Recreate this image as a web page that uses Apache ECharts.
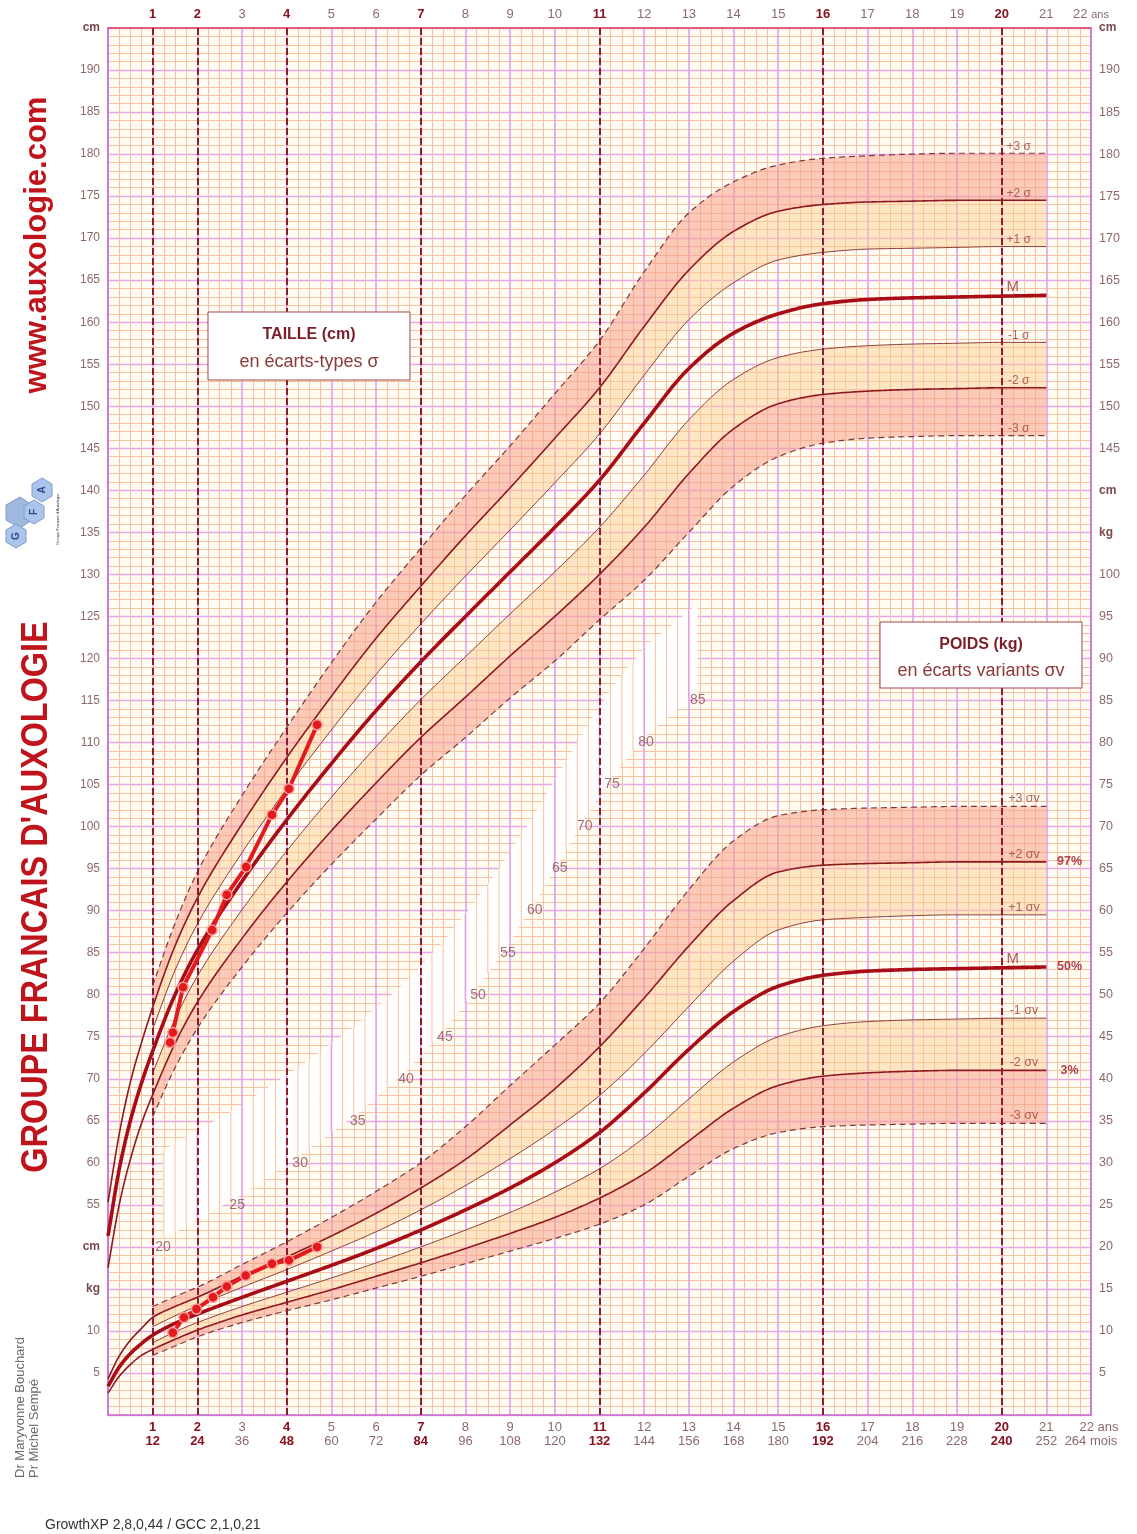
<!DOCTYPE html>
<html><head><meta charset="utf-8">
<script src="https://cdn.jsdelivr.net/npm/echarts@6/dist/echarts.min.js"></script>
<style>html,body{margin:0;padding:0;background:#fff;}#c{width:1137px;height:1534px;}</style>
</head><body><div id="c"></div>
<script>
// ---------- DATA ----------
const AGES = [0,0.25,0.5,0.75,1,1.5,2,3,4,5,6,7,8,9,10,11,12,13,14,15,16,17,18,19,20,21];
// Height (cm)
const H_P3 = [null,null,null,null,81.1,88.5,94.6,103.7,111.8,119.5,126.7,133.1,139.4,145.3,151.5,157.8,166.0,173.0,176.7,178.7,179.5,179.8,180.0,180.1,180.1,180.1];
const H_P2 = [55.3,63.4,69.6,74.3,78.5,85.8,91.5,100.3,108.2,115.5,122.4,128.6,134.6,140.3,146.2,152.2,159.5,166.2,170.8,173.2,174.0,174.3,174.4,174.5,174.5,174.5];
const H_P1 = [null,null,null,null,75.9,82.9,88.4,96.9,104.5,111.5,118.1,124.1,129.8,135.3,140.9,146.7,153.7,160.3,164.7,167.4,168.3,168.7,168.8,168.9,169.0,169.0];
const H_M  = [51.3,59.2,65.0,69.5,73.3,80.0,85.3,93.5,100.8,107.5,113.8,119.6,125.0,130.3,135.6,141.2,148.0,154.5,158.7,161.0,162.2,162.7,162.9,163.0,163.1,163.2];
const H_M1 = [null,null,null,null,70.7,77.1,82.2,90.1,97.1,103.5,109.5,115.1,120.2,125.3,130.3,135.6,141.8,148.4,153.2,155.8,156.8,157.2,157.4,157.5,157.6,157.6];
const H_M2 = [47.5,55.0,60.4,64.7,68.1,74.2,79.1,86.7,93.4,99.5,105.2,110.6,115.4,120.3,125.0,130.0,135.6,142.0,147.3,150.3,151.4,151.8,152.0,152.1,152.2,152.2];
const H_M3 = [null,null,null,null,65.5,71.3,76.0,83.3,89.7,95.5,100.9,106.1,110.6,115.3,119.7,124.6,129.3,135.0,140.5,144.0,145.6,146.2,146.4,146.5,146.5,146.5];
// Weight (kg)
const W_P3 = [null,null,null,null,12.9,14.1,15.2,17.9,20.6,23.5,26.6,30.0,34.3,39.2,44.0,49.0,55.5,62.5,68.3,71.3,72.0,72.2,72.3,72.4,72.4,72.4];
const W_P2 = [4.3,7.0,8.9,10.3,11.6,12.9,14.0,16.5,18.8,21.3,24.0,27.0,30.4,34.5,38.8,43.8,49.6,55.8,61.2,64.6,65.4,65.6,65.7,65.8,65.8,65.8];
const W_P1 = [null,null,null,null,10.5,11.8,13.0,15.2,17.3,19.5,21.8,24.4,27.3,30.5,34.0,38.0,43.0,48.6,54.0,57.7,58.9,59.2,59.4,59.5,59.5,59.5];
const W_M  = [3.4,5.7,7.3,8.5,9.5,10.9,12.0,14.0,15.9,17.8,19.8,22.0,24.4,27.0,30.0,33.6,38.3,43.5,48.0,51.0,52.3,52.8,53.0,53.1,53.2,53.3];
const W_M1 = [null,null,null,null,8.6,9.9,11.0,12.9,14.6,16.3,18.1,20.0,22.0,24.1,26.5,29.3,33.0,37.6,42.0,45.0,46.3,46.8,47.0,47.1,47.2,47.2];
const W_M2 = [2.6,4.6,6.0,7.1,7.8,9.0,10.1,11.9,13.4,14.9,16.5,18.1,19.8,21.6,23.5,25.8,28.7,32.6,36.5,39.2,40.3,40.7,40.9,41.0,41.0,41.0];
const W_M3 = [null,null,null,null,7.1,8.2,9.3,11.0,12.4,13.7,15.1,16.5,18.0,19.5,21.0,22.7,25.0,28.4,31.7,33.6,34.3,34.5,34.6,34.7,34.7,34.7];
// Patient
const PH_AGE = [1.39,1.45,1.68,2.33,2.66,3.09,3.67,4.05,4.68];
const PH_CM  = [74.3,75.5,80.9,87.7,91.9,95.2,101.4,104.5,112.1];
const PW_AGE = [1.45,1.70,1.98,2.35,2.66,3.08,3.67,4.05,4.68];
const PW_KG  = [9.8,11.6,12.6,14.0,15.3,16.6,18.0,18.4,20.0];
// Mid weight scale labels
const MID_LABELS = [20,25,30,35,40,45,50,55,60,65,70,75,80,85];
const MID_AGES   = [1.23,2.89,4.30,5.59,6.67,7.54,8.28,8.95,9.55,10.11,10.67,11.28,12.04,13.2];
// Ticks / labels
const KEY_AGES = [1,2,4,7,11,16,20];
const H_NAMES = ['+3 σ','+2 σ','+1 σ','M','-1 σ','-2 σ','-3 σ'];
const W_NAMES = ['+3 σv','+2 σv','+1 σv','M','-1 σv','-2 σv','-3 σv'];
const PCT_NAMES = ['97%','50%','3%'];

// ---------- HELPERS ----------
const FONT = '"Liberation Sans", Arial, sans-serif';
function monoSample(xs, ys, step){
  const n = xs.length, out=[];
  if(n<2) return xs.map((x,i)=>[x,ys[i]]);
  const d=[], m=new Array(n);
  for(let i=0;i<n-1;i++) d.push((ys[i+1]-ys[i])/(xs[i+1]-xs[i]));
  m[0]=d[0]; m[n-1]=d[n-2];
  for(let i=1;i<n-1;i++){
    if(d[i-1]*d[i]<=0) m[i]=0;
    else{
      const h0=xs[i]-xs[i-1], h1=xs[i+1]-xs[i];
      const w1=2*h1+h0, w2=h1+2*h0;
      m[i]=(w1+w2)/(w1/d[i-1]+w2/d[i]);
    }
  }
  for(let i=0;i<n-1;i++){
    const h=xs[i+1]-xs[i]; const k=Math.max(2,Math.ceil(h/step));
    for(let j=0;j<k;j++){
      const t=j/k,t2=t*t,t3=t2*t;
      const y=(2*t3-3*t2+1)*ys[i]+(t3-2*t2+t)*h*m[i]+(-2*t3+3*t2)*ys[i+1]+(t3-t2)*h*m[i+1];
      out.push([xs[i]+t*h,y]);
    }
  }
  out.push([xs[n-1],ys[n-1]]);
  return out;
}
function sampled(arr){
  const xs=[],ys=[];
  AGES.forEach((a,i)=>{ if(arr[i]!=null){xs.push(a);ys.push(arr[i]);} });
  return monoSample(xs,ys,0.05);
}
const STY = {
  d:{stroke:'#7a3a3a',lineWidth:1.2,lineDash:[6,4],fill:null},
  s2:{stroke:'#8e1820',lineWidth:1.6,fill:null},
  s1:{stroke:'#8a3a36',lineWidth:1,fill:null},
  m:{stroke:'#a80c16',lineWidth:3.6,fill:null}
};
const KINDS=['d','s2','s1','m','s1','s2','d'];
function curveSeries(arrs, yIdx){
  return {type:'custom', xAxisIndex:0, yAxisIndex:yIdx, silent:true, z:4, animation:false,
    data: arrs.map((a,i)=>[10,10,i]),
    renderItem:(params,api)=>{
      const arr=arrs[params.dataIndex];
      const pts=sampled(arr).map(p=>api.coord(p));
      return {type:'polyline', shape:{points:pts}, style:Object.assign({},STY[KINDS[params.dataIndex]])};
    }};
}
function bandSeries(pairs, yIdx){
  return {type:'custom', xAxisIndex:0, yAxisIndex:yIdx, silent:true, z:2, animation:false,
    data: pairs.map((p,i)=>[10,10,i]),
    renderItem:(params,api)=>{
      const [U,L,col]=pairs[params.dataIndex];
      const su=sampled(U), sl=sampled(L);
      const keysL=new Map(sl.map(p=>[p[0].toFixed(4),p[1]]));
      const top=[],bot=[];
      su.forEach(p=>{const k=p[0].toFixed(4); if(keysL.has(k)){top.push(api.coord(p)); bot.push(api.coord([p[0],keysL.get(k)]));}});
      return {type:'polygon', shape:{points:top.concat(bot.reverse())}, style:{fill:col}};
    }};
}
const OUTER='rgba(247,160,136,0.55)', INNER='rgba(252,204,140,0.45)';
const H_ARRS=[H_P3,H_P2,H_P1,H_M,H_M1,H_M2,H_M3];
const W_ARRS=[W_P3,W_P2,W_P1,W_M,W_M1,W_M2,W_M3];
const last=a=>a[a.length-1];
const GRID_MINOR='#f6c2a0', GRID_MAJOR_V='#e0a0e8', GRID_MAJOR_H='#e6a8ea';
const RIB_LO=0.9, RIB_HI=11.5;

// ribbon (white diagonal zone of the mid weight scale)
const ribbonSeries = {type:'custom', xAxisIndex:0, yAxisIndex:1, silent:true, z:1, animation:false,
  data:[[10,10]],
  renderItem:(params,api)=>{
    const lo=MID_AGES.map((a,i)=>api.coord([a,MID_LABELS[i]+RIB_LO]));
    const hi=MID_AGES.map((a,i)=>api.coord([a,MID_LABELS[i]+RIB_HI]));
    const children=[{type:'polygon', shape:{points:hi.concat(lo.slice().reverse())}, style:{fill:'rgba(255,255,255,0.96)'}}];
    for(let q=Math.ceil(MID_AGES[0]*4); q<=Math.floor(last(MID_AGES)*4); q++){
      const a=q/4;
      let i=0; while(i<MID_AGES.length-2 && MID_AGES[i+1]<a) i++;
      const t=(a-MID_AGES[i])/(MID_AGES[i+1]-MID_AGES[i]);
      const v=MID_LABELS[i]+t*(MID_LABELS[i+1]-MID_LABELS[i]);
      const p1=api.coord([a,v+RIB_LO]), p2=api.coord([a,v+RIB_HI]);
      const major=(q%4===0);
      children.push({type:'line', shape:{x1:p1[0],y1:p1[1],x2:p2[0],y2:p2[1]}, style:{stroke:major?GRID_MAJOR_V:GRID_MINOR, lineWidth:major?1.6:1}});
    }
    return {type:'group', children};
  }};

// ---------- CHART ----------
const chart = echarts.init(document.getElementById('c'), null, {renderer:'canvas'});
const axisNum = '#8c6a6a', keyCol = '#8b1020';
const option = {
  animation:false,
  backgroundColor:'#ffffff',
  grid:{left:108, top:28, width:983, height:1387, show:true, backgroundColor:'#fffcf4', borderWidth:0},
  xAxis:[
    {type:'value', position:'bottom', min:0, max:22, interval:1,
     axisLine:{show:true, onZero:false, lineStyle:{color:'#c868cc', width:1.5}},
     axisTick:{show:false},
     minorTick:{show:false, splitNumber:4},
     splitLine:{show:true, lineStyle:{color:GRID_MAJOR_V, width:1.6}},
     minorSplitLine:{show:true, lineStyle:{color:GRID_MINOR, width:1}},
     axisLabel:{margin:5, lineHeight:14, formatter:v=>{
        if(v===0) return '';
        if(v===22) return '{e|22 ans}\n{n|264 mois}';
        const k=KEY_AGES.includes(v)?'k':'n';
        return '{'+k+'|'+v+'}\n{'+k+'|'+(v*12)+'}';
      }, rich:{n:{color:axisNum,fontSize:13,fontFamily:FONT,lineHeight:14},
               e:{color:axisNum,fontSize:13,fontFamily:FONT,lineHeight:14,padding:[0,0,0,16]},
               k:{color:keyCol,fontSize:13,fontWeight:'bold',fontFamily:FONT,lineHeight:14}}}
    },
    {type:'value', position:'top', min:0, max:22, interval:1,
     axisLine:{show:true, onZero:false, lineStyle:{color:'#e5607a', width:2}},
     axisTick:{show:false}, splitLine:{show:false},
     axisLabel:{margin:7, formatter:v=>{
        if(v===0) return '';
        if(v===22) return '{n|22 }{s|ans}';
        return KEY_AGES.includes(v)?'{k|'+v+'}':'{n|'+v+'}';
      }, rich:{n:{color:axisNum,fontSize:13,fontFamily:FONT}, s:{color:axisNum,fontSize:11,fontFamily:FONT}, k:{color:keyCol,fontSize:13,fontWeight:'bold',fontFamily:FONT}}}
    }
  ],
  yAxis:[
    {type:'value', position:'left', min:30, max:195, interval:5,
     axisLine:{show:true, onZero:false, lineStyle:{color:'#c868cc', width:1.5}},
     axisTick:{show:false},
     minorTick:{show:false, splitNumber:5},
     splitLine:{show:true, lineStyle:{color:GRID_MAJOR_H, width:1.3}},
     minorSplitLine:{show:true, lineStyle:{color:GRID_MINOR, width:1}},
     axisLabel:{margin:8, formatter:v=>{
        if(v===195||v===50) return '{u|cm}';
        if(v===45) return '{u|kg}';
        if(v===40) return '10';
        if(v===35) return '5';
        if(v>=55) return String(v);
        return '';
      }, color:axisNum, fontSize:12, fontFamily:FONT, rich:{u:{color:'#7a4a4a',fontWeight:'bold',fontSize:12,fontFamily:FONT}}}
    },
    {type:'value', position:'right', min:0, max:165, interval:5,
     axisLine:{show:true, onZero:false, lineStyle:{color:'#c868cc', width:1.5}},
     axisTick:{show:false}, splitLine:{show:false},
     axisLabel:{margin:8, formatter:v=>{
        if(v===165||v===110) return '{u|cm}';
        if(v===105) return '{u|kg}';
        if(v>=115) return String(v+30);
        if(v>=5) return String(v);
        return '';
      }, color:axisNum, fontSize:12.5, fontFamily:FONT, rich:{u:{color:'#7a4a4a',fontWeight:'bold',fontSize:12,fontFamily:FONT}}}
    }
  ],
  series:[
    ribbonSeries,
    bandSeries([[H_P3,H_P2,OUTER],[H_P2,H_P1,INNER],[H_M1,H_M2,INNER],[H_M2,H_M3,OUTER]],0),
    bandSeries([[W_P3,W_P2,OUTER],[W_P2,W_P1,INNER],[W_M1,W_M2,INNER],[W_M2,W_M3,OUTER]],1),
    {type:'line', xAxisIndex:0, yAxisIndex:0, data:[[0,30]], showSymbol:false, silent:true, z:3,
     lineStyle:{width:0},
     markLine:{silent:true, symbol:['none','none'], label:{show:false},
       lineStyle:{color:'#8c1c2c', type:[7,3], width:2},
       data:KEY_AGES.map(a=>({xAxis:a}))}},
    curveSeries(H_ARRS,0),
    curveSeries(W_ARRS,1),
    {type:'scatter', xAxisIndex:0, yAxisIndex:0, symbolSize:0, silent:true, z:6,
     data:H_NAMES.map((n,i)=>({name:n, value:[n==='M'?20.25:20.38, last(H_ARRS[i])]})),
     label:{show:true, position:'top', distance:1, formatter:p=>p.name==='M'?'{m|M}':p.name, color:'#9a4040', fontSize:12, fontFamily:FONT,
       rich:{m:{fontSize:15,color:'#9a3030',fontFamily:FONT}}}},
    {type:'scatter', xAxisIndex:0, yAxisIndex:1, symbolSize:0, silent:true, z:6,
     data:W_NAMES.map((n,i)=>({name:n, value:[n==='M'?20.25:20.5, last(W_ARRS[i])]})),
     label:{show:true, position:'top', distance:1, formatter:p=>p.name==='M'?'{m|M}':p.name, color:'#9a4040', fontSize:12.5, fontFamily:FONT,
       rich:{m:{fontSize:15,color:'#9a3030',fontFamily:FONT}}}},
    {type:'scatter', xAxisIndex:0, yAxisIndex:1, symbolSize:0, silent:true, z:6,
     data:PCT_NAMES.map((n,i)=>({name:n, value:[21.52, last([W_P2,W_M,W_M2][i])]})),
     label:{show:true, position:'inside', formatter:'{b}', color:'#a01424', fontSize:12.5, fontWeight:'bold', fontFamily:FONT}},
    {type:'scatter', xAxisIndex:0, yAxisIndex:1, symbolSize:0, silent:true, z:5,
     data:MID_AGES.map((a,i)=>[a,MID_LABELS[i]]),
     label:{show:true, position:'inside', formatter:p=>String(p.value[1]), color:'#8a5050', fontSize:14, fontFamily:FONT}},
    {type:'line', xAxisIndex:0, yAxisIndex:0, z:10, data:PH_AGE.map((a,i)=>[a,PH_CM[i]]),
     symbol:'circle', symbolSize:10, lineStyle:{color:'#e31a1c', width:4},
     itemStyle:{color:'#e31a1c', borderColor:'#ff9c9c', borderWidth:1.5}},
    {type:'line', xAxisIndex:0, yAxisIndex:1, z:10, data:PW_AGE.map((a,i)=>[a,PW_KG[i]]),
     symbol:'circle', symbolSize:10, lineStyle:{color:'#e31a1c', width:4},
     itemStyle:{color:'#e31a1c', borderColor:'#ff9c9c', borderWidth:1.5}}
  ],
  graphic:[
    {type:'text', x:37, y:245, rotation:Math.PI/2, z:50, style:{text:'www.auxologie.com', font:'bold 31px '+FONT, fill:'#c0141c', align:'center', verticalAlign:'middle'}},
    {type:'text', x:37, y:897, rotation:Math.PI/2, scaleX:0.9, z:50, style:{text:"GROUPE FRANCAIS D'AUXOLOGIE", font:'bold 36px '+FONT, fill:'#c0141c', align:'center', verticalAlign:'middle'}},
    {type:'text', x:20, y:1478, rotation:Math.PI/2, z:50, style:{text:'Dr Maryvonne Bouchard', font:'13px '+FONT, fill:'#6a6a6a', align:'left', verticalAlign:'middle'}},
    {type:'text', x:34, y:1478, rotation:Math.PI/2, z:50, style:{text:'Pr Michel Sempé', font:'13px '+FONT, fill:'#6a6a6a', align:'left', verticalAlign:'middle'}},
    {type:'text', x:45, y:1525, z:50, style:{text:'GrowthXP 2,8,0,44 / GCC 2,1,0,21', font:'14px '+FONT, fill:'#333', align:'left', verticalAlign:'middle'}},
    {type:'rect', z:60, shape:{x:208,y:312,width:202,height:68}, style:{fill:'#ffffff', stroke:'#a04848', lineWidth:1}},
    {type:'text', x:309, y:335, z:61, style:{text:'TAILLE (cm)', font:'bold 16px '+FONT, fill:'#7a1f2a', align:'center', verticalAlign:'middle'}},
    {type:'text', x:309, y:362, z:61, style:{text:'en écarts-types σ', font:'18px '+FONT, fill:'#8b3a3a', align:'center', verticalAlign:'middle'}},
    {type:'rect', z:60, shape:{x:880,y:622,width:202,height:66}, style:{fill:'#ffffff', stroke:'#a04848', lineWidth:1}},
    {type:'text', x:981, y:645, z:61, style:{text:'POIDS (kg)', font:'bold 16px '+FONT, fill:'#7a1f2a', align:'center', verticalAlign:'middle'}},
    {type:'text', x:981, y:671, z:61, style:{text:'en écarts variants σv', font:'18px '+FONT, fill:'#8b3a3a', align:'center', verticalAlign:'middle'}},
    // logo
    {type:'polygon', z:50, shape:{points:[[6,505],[20,497],[32,505],[32,520],[20,528],[6,520]]}, style:{fill:'#9fb8de', stroke:'#7f9ccc'}},
    {type:'polygon', z:51, shape:{points:[[32,484],[42,478],[52,484],[52,496],[42,502],[32,496]]}, style:{fill:'#aac4ec', stroke:'#7f9ccc'}},
    {type:'polygon', z:51, shape:{points:[[24,506],[34,500],[44,506],[44,518],[34,524],[24,518]]}, style:{fill:'#aac4ec', stroke:'#7f9ccc'}},
    {type:'polygon', z:51, shape:{points:[[6,530],[16,524],[26,530],[26,542],[16,548],[6,542]]}, style:{fill:'#aac4ec', stroke:'#7f9ccc'}},
    {type:'text', x:42, y:490, rotation:Math.PI/2, z:52, style:{text:'A', font:'bold 10px '+FONT, fill:'#2a4a8a', align:'center', verticalAlign:'middle'}},
    {type:'text', x:34, y:512, rotation:Math.PI/2, z:52, style:{text:'F', font:'bold 10px '+FONT, fill:'#2a4a8a', align:'center', verticalAlign:'middle'}},
    {type:'text', x:16, y:536, rotation:Math.PI/2, z:52, style:{text:'G', font:'bold 10px '+FONT, fill:'#2a4a8a', align:'center', verticalAlign:'middle'}},
    {type:'text', x:58, y:545, rotation:Math.PI/2, z:52, style:{text:"Groupe Français d'Auxologie", font:'4px '+FONT, fill:'#334', align:'left', verticalAlign:'middle'}}
  ]
};
chart.setOption(option);
</script>
</body></html>
